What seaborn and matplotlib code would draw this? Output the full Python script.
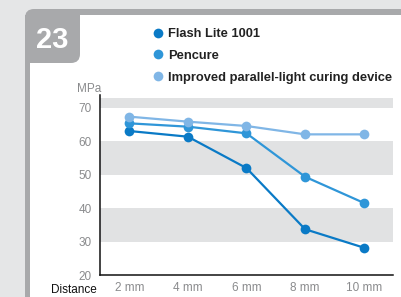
import pandas as pd
import matplotlib
matplotlib.use("Agg")
import matplotlib.pyplot as plt
from matplotlib.patches import FancyBboxPatch, Rectangle
from matplotlib.lines import Line2D
import seaborn as sns

distances = ["2 mm", "4 mm", "6 mm", "8 mm", "10 mm"]
devices = ["Flash Lite 1001", "Pencure", "Improved parallel-light curing device"]
flash_lite = [63.1, 61.4, 52.0, 33.7, 28.2]
pencure = [65.4, 64.4, 62.4, 49.4, 41.6]
improved = [67.4, 65.9, 64.6, 62.1, 62.1]
y_ticks = [20, 30, 40, 50, 60, 70]
colors = ["#0a7ac6", "#2f96d8", "#80b6e6"]

df = pd.DataFrame({
    "distance": distances * 3,
    "pos": list(range(len(distances))) * 3,
    "device": [d for d in devices for _ in distances],
    "mpa": flash_lite + pencure + improved,
})

sns.set_style("white")
fam = ["Liberation Sans", "DejaVu Sans"]
plt.rcParams["font.family"] = fam

W, H = 402, 297
fig = plt.figure(figsize=(W / 100, H / 100), dpi=100)
fig.patch.set_facecolor("#e5e6e7")

# card background drawn in pixel coordinates
bg = fig.add_axes([0, 0, 1, 1])
bg.set_xlim(0, W)
bg.set_ylim(H, 0)
bg.axis("off")
border = "#a8a9ab"
bg.add_patch(FancyBboxPatch((25, 9), 420, 320, boxstyle="round,pad=0,rounding_size=20",
                            facecolor=border, edgecolor="none"))
bg.add_patch(FancyBboxPatch((30, 15), 420, 320, boxstyle="round,pad=0,rounding_size=15",
                            facecolor="white", edgecolor="none"))
bg.add_patch(FancyBboxPatch((25, 9), 55, 54, boxstyle="round,pad=0,rounding_size=9",
                            facecolor=border, edgecolor="none"))
bg.add_patch(Rectangle((25, 15), 55, 20, facecolor=border, edgecolor="none"))
bg.add_patch(Rectangle((30, 15), 25, 48, facecolor=border, edgecolor="none"))
bg.text(52, 40, "23", color="white", fontsize=21, fontweight="bold",
        ha="center", va="center")

# chart axes
left, right, bottom_px, top_px = 100, 393, 275, 94.6
ax = fig.add_axes([left / W, (H - bottom_px) / H, (right - left) / W, (bottom_px - top_px) / H])
ax.set_facecolor("none")
for lo, hi in [(30, 40), (50, 60), (70, 73)]:
    ax.axhspan(lo, hi, color="#e1e2e3", lw=0, zorder=0)

sns.lineplot(data=df, x="pos", y="mpa", hue="device", hue_order=devices,
             palette=colors, marker="o", markersize=7, markeredgewidth=0,
             linewidth=1.6, ax=ax, legend=False, zorder=3)

ax.set_xlim(-0.5, 4.5)
ax.set_ylim(20, 74)
ax.set_yticks(y_ticks)
ax.tick_params(axis="y", length=0, pad=6, labelsize=8.5, labelcolor="#8a8b8d")
ax.set_xticks(range(len(distances)))
ax.set_xticklabels(distances)
ax.tick_params(axis="x", which="major", length=0, pad=5, labelsize=8.5, labelcolor="#8a8b8d")
ax.set_xticks([i + 0.5 for i in range(len(distances))], minor=True)
ax.tick_params(axis="x", which="minor", direction="inout", length=14, width=1.1, color="#444444")
ax.set_xlabel("")
ax.set_ylabel("")
for s in ["top", "right"]:
    ax.spines[s].set_visible(False)
for s in ["left", "bottom"]:
    ax.spines[s].set_color("#111111")
    ax.spines[s].set_linewidth(1.1)

bg.text(89, 89, "MPa", color="#8a8b8d", fontsize=8.5, ha="center", va="center")
bg.text(97, 290, "Distance", color="#111111", fontsize=8.5, ha="right", va="center")

handles = [Line2D([], [], linestyle="", marker="o", markersize=7, markeredgewidth=0, color=c)
           for c in colors]
fig.legend(handles, devices, loc="upper left", bbox_to_anchor=(153 / W, 1 - 28 / H),
           frameon=False, handlelength=0.8, handletextpad=0.4,
           labelspacing=0.75, borderaxespad=0, borderpad=0,
           prop={"weight": "bold", "size": 9.3, "family": fam},
           labelcolor="#222222")

fig.savefig("out.png", dpi=100)
